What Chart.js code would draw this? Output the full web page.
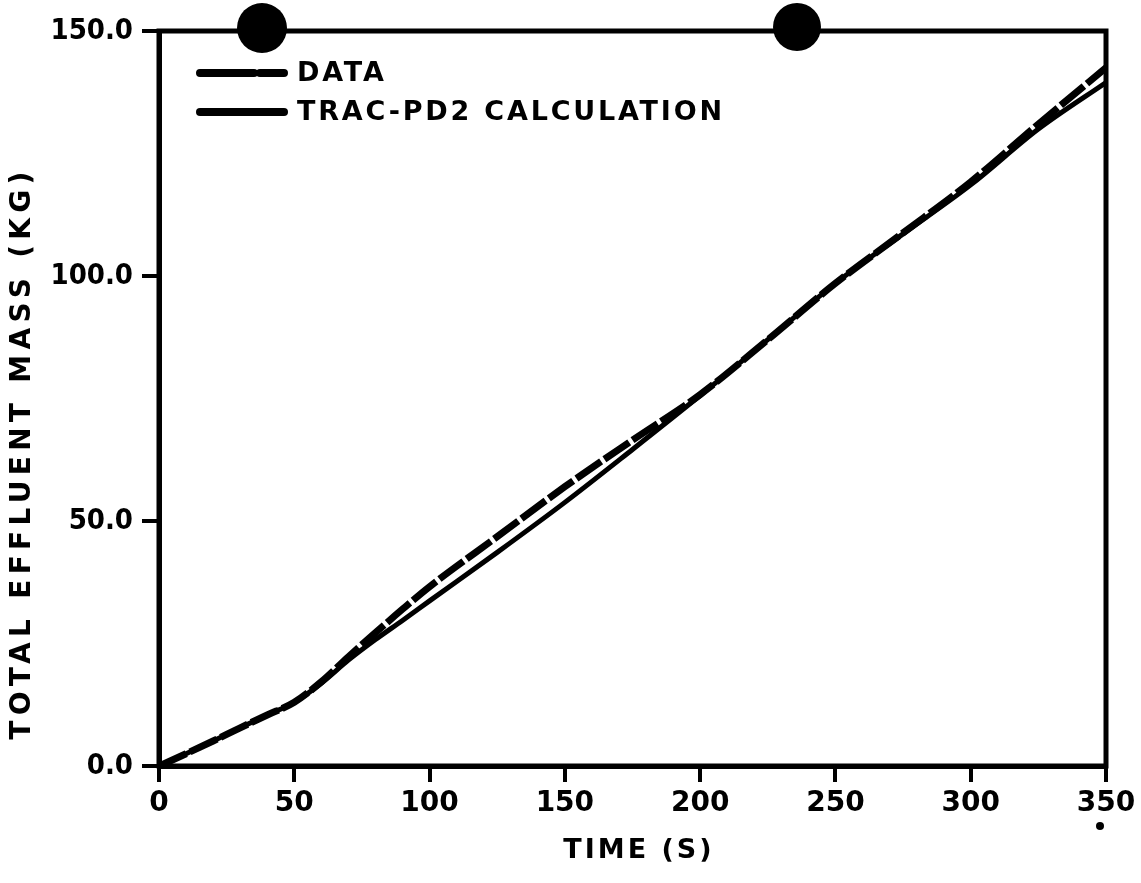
<!DOCTYPE html>
<html>
<head>
<meta charset="utf-8">
<title>Total effluent mass</title>
<script src="https://cdn.jsdelivr.net/npm/chart.js@4.4.1/dist/chart.umd.min.js"></script>
<style>
  html, body { margin: 0; padding: 0; background: #fff; }
  #wrap { width: 1141px; height: 883px; position: relative; }
</style>
</head>
<body>
<div id="wrap"><canvas id="chart"></canvas></div>
<script>
// time axis (s)
const timeSec = [0, 10, 20, 30, 40, 50, 60, 70, 80, 90, 100, 125, 150, 175, 200, 225, 250, 275, 300, 325, 350];
// measured effluent mass (kg)
const dataMass = [0, 2.5, 5.1, 7.8, 10.4, 13.0, 17.2, 22.3, 27.2, 32.0, 36.6, 46.8, 57.0, 66.5, 75.8, 87.0, 98.5, 108.8, 119.2, 131.0, 142.5];
// TRAC-PD2 result (kg)
const calcMass = [0, 2.5, 5.1, 7.8, 10.4, 13.0, 16.9, 21.6, 25.8, 29.7, 33.7, 43.6, 53.8, 64.6, 75.6, 87.0, 98.5, 108.6, 118.6, 130.0, 139.5];

const xTicks = [0, 50, 100, 150, 200, 250, 300, 350];
const yTicks = [0, 50, 100, 150];

const seriesNames = ['DATA', 'TRAC-PD2 CALCULATION'];
const xTitle = 'TIME (S)';
const yTitle = 'TOTAL EFFLUENT MASS (KG)';

const ink = '#000';
const xLabelFont = { family: 'DejaVu Sans', size: 28, weight: 'bold' };
const yLabelFont = { family: 'DejaVu Sans Condensed', size: 29, weight: 'bold' };

const toPoints = (ys) => timeSec.map((t, i) => ({ x: t, y: ys[i] }));

// frame, legend, axis titles and the scanned page marks
const decor = {
  id: 'decor',
  afterDatasetsDraw(chart) {
    const { ctx, chartArea: a } = chart;
    ctx.save();

    // box around the plot
    ctx.strokeStyle = ink;
    ctx.lineWidth = 5;
    ctx.strokeRect(a.left, a.top, a.right - a.left, a.bottom - a.top);

    // legend inside the upper left corner
    chart.data.datasets.forEach((ds, i) => {
      const y = a.top + 42 + i * 39;
      const x0 = a.left + 41;
      ctx.beginPath();
      ctx.setLineDash(ds.legendDash || []);
      ctx.lineWidth = 8;
      ctx.lineCap = 'round';
      ctx.moveTo(x0, y);
      ctx.lineTo(x0 + 84, y);
      ctx.stroke();
      ctx.setLineDash([]);
      ctx.fillStyle = ink;
      ctx.font = 'bold 27px "DejaVu Sans"';
      ctx.letterSpacing = '2.8px';
      ctx.textAlign = 'left';
      ctx.textBaseline = 'middle';
      ctx.fillText(ds.label, x0 + 97, y + 1);
    });

    // x axis title
    ctx.font = 'bold 27px "DejaVu Sans"';
    ctx.letterSpacing = '3px';
    ctx.textAlign = 'center';
    ctx.textBaseline = 'middle';
    ctx.fillText(xTitle, 639, 851);

    // y axis title, rotated
    ctx.save();
    ctx.translate(23, 453);
    ctx.rotate(-Math.PI / 2);
    ctx.letterSpacing = '5.3px';
    ctx.font = 'bold 28px "DejaVu Sans"';
    ctx.fillText(yTitle, 0, 0);
    ctx.restore();
    ctx.letterSpacing = '0px';

    // binder holes and a speck from the scanned sheet
    ctx.fillStyle = ink;
    [[262, 28, 25], [797, 27, 24], [1100, 826, 4]].forEach(([cx, cy, r]) => {
      ctx.beginPath();
      ctx.arc(cx, cy, r, 0, Math.PI * 2);
      ctx.fill();
    });

    ctx.restore();
  }
};

const canvas = document.getElementById('chart');
new Chart(canvas, {
  type: 'line',
  data: {
    datasets: [
      {
        label: seriesNames[0],
        data: toPoints(dataMass),
        borderColor: ink,
        borderWidth: 7,
        borderDash: [30, 4],
        legendDash: [54, 6],
        pointRadius: 0,
        cubicInterpolationMode: 'monotone'
      },
      {
        label: seriesNames[1],
        data: toPoints(calcMass),
        borderColor: ink,
        borderWidth: 5,
        legendDash: [],
        pointRadius: 0,
        cubicInterpolationMode: 'monotone'
      }
    ]
  },
  options: {
    responsive: true,
    maintainAspectRatio: false,
    animation: false,
    layout: { padding: { top: 31, right: 35, left: 0, bottom: 0 } },
    plugins: {
      legend: { display: false },
      tooltip: { enabled: false }
    },
    scales: {
      x: {
        type: 'linear',
        min: 0,
        max: 350,
        afterFit: (s) => { s.height = 117; },
        afterBuildTicks: (s) => { s.ticks = xTicks.map((v) => ({ value: v })); },
        border: { color: ink, width: 5 },
        grid: { drawOnChartArea: false, color: ink, lineWidth: 4, tickLength: 16 },
        ticks: { color: ink, font: xLabelFont, padding: 5, maxRotation: 0, callback: (v) => String(v) }
      },
      y: {
        min: 0,
        max: 150,
        afterFit: (s) => { s.width = 159; },
        afterBuildTicks: (s) => { s.ticks = yTicks.map((v) => ({ value: v })); },
        border: { color: ink, width: 5 },
        grid: { drawOnChartArea: false, color: ink, lineWidth: 4, tickLength: 17 },
        ticks: { color: ink, font: yLabelFont, padding: 9, callback: (v) => Number(v).toFixed(1) }
      }
    }
  },
  plugins: [decor]
});
</script>
</body>
</html>
